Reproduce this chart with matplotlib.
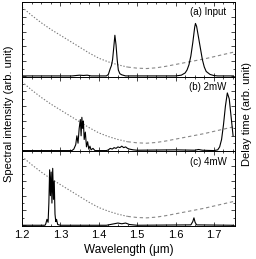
import matplotlib
matplotlib.use("Agg")
import matplotlib.pyplot as plt
from matplotlib.ticker import MultipleLocator

plt.rcParams['font.family'] = ['Liberation Sans', 'DejaVu Sans']

# Delay-time curve (normalized to panel height)
delay_wl = [1.20, 1.225, 1.25, 1.275, 1.30, 1.325, 1.35, 1.375, 1.40, 1.425, 1.45,
            1.475, 1.50, 1.525, 1.55, 1.575, 1.60, 1.625, 1.65, 1.675, 1.70, 1.725, 1.75]
delay_val = [0.93, 0.82, 0.72, 0.63, 0.55, 0.47, 0.39, 0.31, 0.24, 0.19, 0.15,
             0.12, 0.105, 0.10, 0.11, 0.13, 0.155, 0.18, 0.205, 0.23, 0.26, 0.29, 0.32]

# (a) Input spectrum
a_wl = [1.20, 1.33, 1.34, 1.35, 1.36, 1.37, 1.38, 1.42, 1.425, 1.43, 1.433, 1.436,
        1.439, 1.442, 1.445, 1.448, 1.451, 1.455, 1.46, 1.47, 1.60, 1.615, 1.625,
        1.63, 1.635, 1.64, 1.645, 1.65, 1.652, 1.655, 1.66, 1.665, 1.67, 1.675,
        1.68, 1.69, 1.70, 1.71, 1.75]
a_val = [0.0, 0.0, 0.005, 0.01, 0.006, 0.01, 0.0, 0.0, 0.02, 0.10, 0.14, 0.22,
         0.38, 0.55, 0.42, 0.22, 0.08, 0.03, 0.015, 0.0, 0.0, 0.01, 0.04,
         0.08, 0.15, 0.27, 0.45, 0.66, 0.71, 0.67, 0.52, 0.37, 0.22, 0.12,
         0.06, 0.02, 0.005, 0.0, 0.0]

# (b) 2mW spectrum
b_wl = [1.20, 1.33, 1.335, 1.34, 1.343, 1.346, 1.349, 1.352, 1.354, 1.356, 1.358,
        1.36, 1.362, 1.365, 1.368, 1.371, 1.374, 1.377, 1.38, 1.385, 1.39, 1.42,
        1.425, 1.43, 1.435, 1.44, 1.445, 1.45, 1.455, 1.46, 1.465, 1.47, 1.475,
        1.48, 1.49, 1.50, 1.60, 1.65, 1.66, 1.67, 1.70, 1.71, 1.715, 1.72, 1.725,
        1.73, 1.735, 1.74, 1.745, 1.75]
b_val = [0.0, 0.0, 0.02, 0.08, 0.2, 0.1, 0.3, 0.42, 0.2, 0.45, 0.3,
         0.4, 0.15, 0.25, 0.05, 0.12, 0.02, 0.06, 0.01, 0.03, 0.0, 0.0,
         0.01, 0.03, 0.02, 0.04, 0.03, 0.05, 0.04, 0.06, 0.04, 0.05, 0.03,
         0.02, 0.01, 0.005, 0.01, 0.005, 0.015, 0.005, 0.0, 0.01, 0.05, 0.15, 0.35,
         0.6, 0.78, 0.7, 0.45, 0.2]

# (c) 4mW spectrum
c_wl = [1.20, 1.26, 1.262, 1.265, 1.268, 1.27, 1.272, 1.274, 1.276, 1.278, 1.28,
        1.282, 1.284, 1.286, 1.288, 1.29, 1.293, 1.30, 1.42, 1.43, 1.44, 1.45,
        1.46, 1.47, 1.48, 1.50, 1.64, 1.645, 1.648, 1.651, 1.655, 1.75]
c_val = [0.0, 0.0, 0.02, 0.08, 0.04, 0.3, 0.75, 0.4, 0.72, 0.3, 0.77,
         0.35, 0.6, 0.15, 0.05, 0.08, 0.01, 0.0, 0.0, 0.01, 0.02, 0.03,
         0.02, 0.03, 0.01, 0.0, 0.005, 0.05, 0.10, 0.04, 0.005, 0.0]

labels = ["(a) Input", "(b) 2mW", "(c) 4mW"]
spectra = [(a_wl, a_val), (b_wl, b_val), (c_wl, c_val)]
xticks = [1.2, 1.3, 1.4, 1.5, 1.6, 1.7]

fig = plt.figure(figsize=(2.56, 2.59), dpi=100)
left, right, bottom, top = 22/256, 235/256, 33/259, 257/259
h = (top - bottom) / 3
axes = []
for i in range(3):
    ax = fig.add_axes([left, top - (i + 1) * h, right - left, h])
    axes.append(ax)
    wl, val = spectra[i]
    # delay curve: dotted on steep side, dashed on flat side
    split = 11
    ax.plot(delay_wl[:split + 1], delay_val[:split + 1], color='#777777',
            lw=0.8, dashes=(1.2, 1.6))
    ax.plot(delay_wl[split:], delay_val[split:], color='#888888',
            lw=0.8, dashes=(3, 2.5))
    ax.plot(wl, val, color='black', lw=0.8)
    ax.set_xlim(1.2, 1.755)
    ax.set_ylim(-0.01, 1.0)
    ax.xaxis.set_major_locator(MultipleLocator(0.1))
    ax.xaxis.set_minor_locator(MultipleLocator(0.025))
    ax.yaxis.set_major_locator(MultipleLocator(0.2))
    ax.yaxis.set_minor_locator(MultipleLocator(0.1))
    ax.tick_params(which='both', direction='in', top=True, right=True,
                   labelleft=False, width=0.5)
    ax.tick_params(which='major', length=3)
    ax.tick_params(which='minor', length=1.5)
    for s in ax.spines.values():
        s.set_linewidth(0.7)
    ax.text(0.96, 0.93, labels[i], transform=ax.transAxes, ha='right',
            va='top', fontsize=7)
    if i < 2:
        ax.tick_params(labelbottom=False)
    else:
        ax.set_xticks(xticks)
        ax.set_xticklabels([f"{t:.1f}" for t in xticks])
        ax.tick_params(labelsize=8, pad=3)
        ax.set_xlabel("Wavelength (\u03bcm)", fontsize=8.5, labelpad=3)

fig.text(0.035, (bottom + top) / 2, "Spectral intensity (arb. unit)",
         rotation=90, ha='center', va='center', fontsize=8)
fig.text(0.965, (bottom + top) / 2, "Delay time (arb. unit)",
         rotation=90, ha='center', va='center', fontsize=8)

fig.savefig("out.png", dpi=100)
